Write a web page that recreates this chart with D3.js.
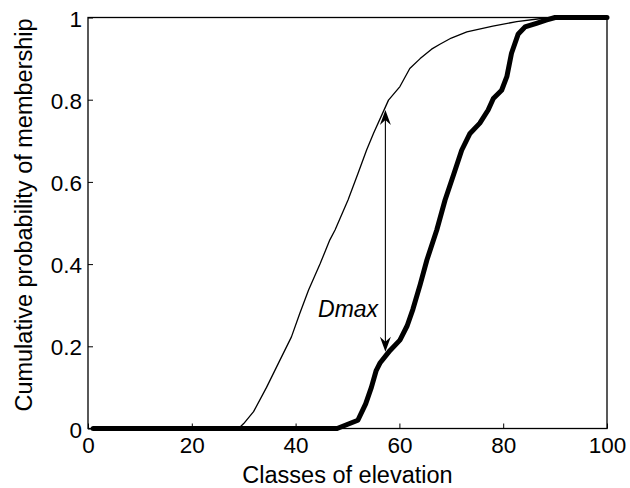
<!DOCTYPE html>
<html>
<head>
<meta charset="utf-8">
<script src="https://cdn.jsdelivr.net/npm/d3@7"></script>
<style>
  html, body { margin: 0; padding: 0; background: #fff; }
  svg { display: block; }
  text { font-family: "Liberation Sans", Arial, Helvetica, sans-serif; fill: #000; }
</style>
</head>
<body>
<svg id="chart" width="630" height="488"></svg>
<script>
// ---- data ----
const thinX = [1, 29, 30, 31.9, 34.4, 36.7, 39.2, 40.8, 42.5, 44.7, 46.6, 47.6, 50.1, 52, 53.7, 55, 56.9, 57.9, 60.1, 62, 64, 66.2, 67.8, 70, 73, 78, 82.6, 87, 90, 100];
const thinY = [0, 0, 0.012, 0.041, 0.10, 0.159, 0.223, 0.28, 0.337, 0.40, 0.459, 0.483, 0.556, 0.62, 0.678, 0.718, 0.771, 0.799, 0.832, 0.876, 0.90, 0.923, 0.935, 0.95, 0.965, 0.979, 0.99, 0.997, 1, 1];

const thickX = [1, 48, 52, 53.5, 54.6, 55.5, 56.3, 58.2, 60.1, 61.5, 62.6, 64, 65.3, 67.2, 68.8, 70.5, 72, 73.6, 75.5, 77.1, 78.1, 79.7, 80.7, 81.6, 82.9, 84.2, 86.4, 88.4, 90, 100];
const thickY = [0, 0, 0.02, 0.06, 0.10, 0.14, 0.16, 0.19, 0.215, 0.25, 0.29, 0.35, 0.41, 0.483, 0.556, 0.62, 0.677, 0.718, 0.743, 0.775, 0.803, 0.823, 0.856, 0.913, 0.96, 0.977, 0.986, 0.994, 1, 1];

const xTicks = [0, 20, 40, 60, 80, 100];
const yTicks = [0, 0.2, 0.4, 0.6, 0.8, 1];
const yTickLabels = ["0", "0.2", "0.4", "0.6", "0.8", "1"];

const arrowX = 57.3;
const arrowYBottom = 0.187;
const arrowYTop = 0.775;
const dmaxLabel = "Dmax";
const dmaxLabelX = 55.9;
const dmaxLabelY = 0.271;

const xLabel = "Classes of elevation";
const yLabel = "Cumulative probability of membership";

// ---- layout ----
const svg = d3.select("#chart");
const margin = { left: 88, top: 17.5, right: 23, bottom: 59.5 };
const W = 630, H = 488;
const iw = W - margin.left - margin.right;
const ih = H - margin.top - margin.bottom;

const x = d3.scaleLinear().domain([0, 100]).range([margin.left, margin.left + iw]);
const y = d3.scaleLinear().domain([0, 1]).range([margin.top + ih, margin.top]);

const g = svg.append("g");

// ticks (inward) on left and bottom
const xAxis = d3.axisBottom(x).tickValues(xTicks).tickSizeInner(-5).tickSizeOuter(0).tickPadding(10).tickFormat(d3.format("d"));
const gx = g.append("g").attr("transform", `translate(0,${y(0)})`).call(xAxis);
gx.select(".domain").remove();
gx.selectAll("line").attr("stroke", "#000").attr("stroke-width", 1);
gx.selectAll("text").attr("font-size", 22.5).attr("dy", "0.71em").attr("y", 9);

const yAxis = d3.axisLeft(y).tickValues(yTicks).tickSizeInner(-5).tickSizeOuter(0).tickPadding(7).tickFormat((d, i) => yTickLabels[i]);
const gy = g.append("g").attr("transform", `translate(${x(0)},0)`).call(yAxis);
gy.select(".domain").remove();
gy.selectAll("line").attr("stroke", "#000").attr("stroke-width", 1);
gy.selectAll("text").attr("font-size", 22.5).attr("dy", "0.38em").attr("x", -6);

// box
g.append("rect")
  .attr("x", x(0)).attr("y", y(1))
  .attr("width", x(100) - x(0)).attr("height", y(0) - y(1))
  .attr("fill", "none").attr("stroke", "#000").attr("stroke-width", 1.3);

// curves
const line = d3.line().x(d => x(d[0])).y(d => y(d[1]));
const thinData = thinX.map((v, i) => [v, thinY[i]]);
const thickData = thickX.map((v, i) => [v, thickY[i]]);

g.append("path").datum(thinData).attr("d", line)
  .attr("fill", "none").attr("stroke", "#000").attr("stroke-width", 1.3)
  .attr("stroke-linejoin", "round");

g.append("path").datum(thickData).attr("d", line)
  .attr("fill", "none").attr("stroke", "#000").attr("stroke-width", 5)
  .attr("stroke-linejoin", "round").attr("stroke-linecap", "round");

// Dmax double arrow
const ax = x(arrowX), ayT = y(arrowYTop), ayB = y(arrowYBottom);
g.append("line").attr("x1", ax).attr("x2", ax).attr("y1", ayT + 6).attr("y2", ayB - 6)
  .attr("stroke", "#000").attr("stroke-width", 1.1);
function head(tipX, tipY, dir) {
  // dir = +1 pointing up, -1 pointing down
  const L = 15, w = 5.5, notch = 10;
  const p = d3.path();
  p.moveTo(tipX, tipY);
  p.lineTo(tipX + w, tipY + dir * L);
  p.lineTo(tipX, tipY + dir * notch);
  p.lineTo(tipX - w, tipY + dir * L);
  p.closePath();
  return p.toString();
}
g.append("path").attr("d", head(ax, ayT, 1)).attr("fill", "#000");
g.append("path").attr("d", head(ax, ayB, -1)).attr("fill", "#000");

g.append("text").attr("x", x(dmaxLabelX)).attr("y", y(dmaxLabelY))
  .attr("text-anchor", "end").attr("font-size", 23).attr("font-style", "italic")
  .text(dmaxLabel);

// axis labels
g.append("text").attr("x", (x(0) + x(100)) / 2).attr("y", 483)
  .attr("text-anchor", "middle").attr("font-size", 23.5).text(xLabel);

g.append("text").attr("transform", `translate(32,215) rotate(-90)`)
  .attr("text-anchor", "middle").attr("font-size", 23.5).text(yLabel);
</script>
</body>
</html>
